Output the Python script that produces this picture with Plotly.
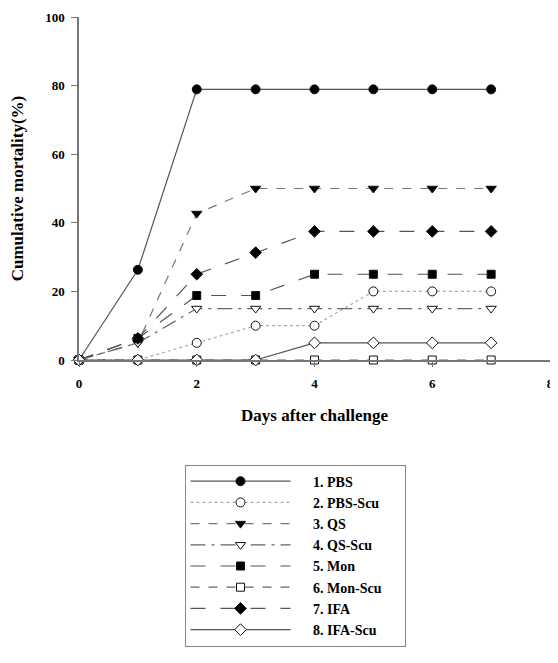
import plotly.graph_objects as go

days = [0, 1, 2, 3, 4, 5, 6, 7]
names = ["1. PBS", "2. PBS-Scu", "3. QS", "4. QS-Scu", "5. Mon", "6. Mon-Scu", "7. IFA", "8. IFA-Scu"]
pbs = [0, 26.3, 78.9, 78.9, 78.9, 78.9, 78.9, 78.9]
pbs_scu = [0, 0, 5, 10, 10, 20, 20, 20]
qs = [0, 5, 42.7, 50, 50, 50, 50, 50]
qs_scu = [0, 5, 15, 15, 15, 15, 15, 15]
mon = [0, 6.3, 18.8, 18.8, 25, 25, 25, 25]
mon_scu = [0, 0, 0, 0, 0, 0, 0, 0]
ifa = [0, 6.3, 25, 31.3, 37.5, 37.5, 37.5, 37.5]
ifa_scu = [0, 0, 0, 0, 5, 5, 5, 5]
x_ticks = [0, 2, 4, 6, 8]
y_ticks = [0, 20, 40, 60, 80, 100]

series = [pbs, pbs_scu, qs, qs_scu, mon, mon_scu, ifa, ifa_scu]
styles = [
    ("solid", "circle", "black", "#555555", 9),
    ("dot", "circle", "white", "#aaaaaa", 9),
    ("dash", "triangle-down", "black", "#777777", 9),
    ("longdashdot", "triangle-down", "white", "#666666", 9),
    ("longdash", "square", "black", "#555555", 8),
    ("dash", "square", "white", "#666666", 8),
    ("longdash", "diamond", "black", "#555555", 9),
    ("solid", "diamond", "white", "#555555", 9),
]

pad = "\u00a0" * 5
tail = "\u00a0" * 5
fig = go.Figure()
for i in range(8):
    dash, sym, fill, lc, sz = styles[i]
    fig.add_trace(go.Scatter(
        x=days, y=series[i], name=pad + names[i] + tail, mode="lines+markers",
        line=dict(color=lc, width=1.2, dash=dash),
        marker=dict(symbol=sym, size=sz, color=fill,
                    line=dict(color="#111111", width=1)),
        cliponaxis=False,
    ))

font = "Liberation Serif, Times New Roman, serif"
fig.update_layout(
    width=550, height=647,
    margin=dict(l=71, r=8, t=9, b=290),
    paper_bgcolor="white", plot_bgcolor="white",
    font=dict(family=font, color="black"),
    showlegend=True,
    legend=dict(
        x=0.224, y=-0.305, xanchor="left", yanchor="top",
        bordercolor="#888888", borderwidth=1, bgcolor="white",
        font=dict(family=font, size=14, color="black", weight="bold"),
        itemwidth=100, tracegroupgap=0,
        traceorder="normal",
    ),
    xaxis=dict(
        range=[0, 8], tickvals=x_ticks, showgrid=False, zeroline=False,
        showline=True, linecolor="#777777", linewidth=1.5,
        ticks="outside", ticklen=5, tickcolor="#777777",
        ticklabelstandoff=6, automargin=False,
        tickfont=dict(family=font, size=13, weight="bold"),
        title=dict(text="<b>Days after challenge</b>", font=dict(family=font, size=17), standoff=19),
    ),
    yaxis=dict(
        range=[0, 100], tickvals=y_ticks, showgrid=False, zeroline=False,
        showline=True, linecolor="#777777", linewidth=1.5,
        ticks="outside", ticklen=6, tickcolor="#777777",
        ticklabelstandoff=4, automargin=False,
        tickfont=dict(family=font, size=13, weight="bold"),
        title=dict(text="<b>Cumulative mortality(%)</b>", font=dict(family=font, size=17), standoff=17),
    ),
)
fig.write_html("out.html")
